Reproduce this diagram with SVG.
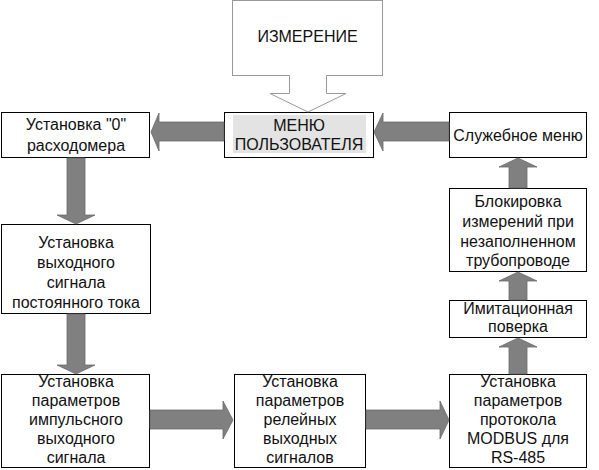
<svg xmlns="http://www.w3.org/2000/svg" width="599" height="470" viewBox="0 0 599 470">
<style>
.box{fill:#fff;stroke:#000;stroke-width:1}
.t{font-family:"Liberation Sans",Arial,sans-serif;font-size:16px;fill:#111;text-anchor:middle}
.arr{fill:#808080;stroke:#6a6a6a;stroke-width:0.8}
</style>
<rect width="599" height="470" fill="#fff"/>
<g id="node-izmerenie">
<rect x="232.5" y="0.5" width="150" height="75" fill="#fff" stroke="#999" stroke-width="1"/>
<text class="t" x="307.5" y="42">ИЗМЕРЕНИЕ</text>
</g>
<g id="node-menu">
<rect class="box" x="224.5" y="112.5" width="149" height="45"/>
<rect x="233" y="115" width="133" height="38" fill="#e3e3e3"/>
<text class="t" x="299" y="131">МЕНЮ</text>
<text class="t" x="299" y="150">ПОЛЬЗОВАТЕЛЯ</text>
</g>
<g id="node-zero">
<rect class="box" x="1.5" y="112.5" width="148" height="45"/>
<text class="t" x="76" y="130">Установка "0"</text>
<text class="t" x="76" y="151">расходомера</text>
</g>
<g id="node-service">
<rect class="box" x="449.5" y="112.5" width="137" height="45"/>
<text class="t" x="518" y="141">Служебное меню</text>
</g>
<g id="node-block">
<rect class="box" x="449.5" y="188.5" width="137" height="83"/>
<text class="t" x="518" y="207">Блокировка</text>
<text class="t" x="518" y="227">измерений при</text>
<text class="t" x="518" y="247">незаполненном</text>
<text class="t" x="518" y="266">трубопроводе</text>
</g>
<g id="node-imit">
<rect class="box" x="449.5" y="300.5" width="137" height="37"/>
<text class="t" x="518" y="314">Имитационная</text>
<text class="t" x="518" y="332">поверка</text>
</g>
<g id="node-current">
<rect class="box" x="1.5" y="224.5" width="149" height="89"/>
<text class="t" x="76" y="248">Установка</text>
<text class="t" x="76" y="268">выходного</text>
<text class="t" x="76" y="288">сигнала</text>
<text class="t" x="76" y="308">постоянного тока</text>
</g>
<g id="node-pulse">
<rect class="box" x="1.5" y="374.5" width="148" height="93"/>
<text class="t" x="76" y="387">Установка</text>
<text class="t" x="76" y="406">параметров</text>
<text class="t" x="76" y="425">импульсного</text>
<text class="t" x="76" y="444">выходного</text>
<text class="t" x="76" y="463">сигнала</text>
</g>
<g id="node-relay">
<rect class="box" x="234.5" y="374.5" width="131" height="93"/>
<text class="t" x="300" y="387">Установка</text>
<text class="t" x="300" y="406">параметров</text>
<text class="t" x="300" y="425">релейных</text>
<text class="t" x="300" y="444">выходных</text>
<text class="t" x="300" y="463">сигналов</text>
</g>
<g id="node-modbus">
<rect class="box" x="449.5" y="374.5" width="137" height="93"/>
<text class="t" x="518" y="387">Установка</text>
<text class="t" x="518" y="406">параметров</text>
<text class="t" x="518" y="425">протокола</text>
<text class="t" x="518" y="444">MODBUS для</text>
<text class="t" x="518" y="463">RS-485</text>
</g>
<g id="connectors">
<polygon fill="#fff" points="289.5,74 289.5,93 270,93 308,112 346,93 326.5,93 326.5,74"/>
<polyline fill="none" stroke="#999" stroke-width="1" points="289.5,75.5 289.5,93.5 270,93.5 308,112 346,93.5 326.5,93.5 326.5,75.5"/>
<polygon class="arr" points="224,122 159,122 159,113 151,132 159,151 159,141 224,141"/>
<polygon class="arr" points="449,122 383,122 383,113 374,132 383,151 383,141 449,141"/>
<polygon class="arr" points="67,158 85,158 85,215 95,215 76,224 57,215 67,215"/>
<polygon class="arr" points="67,314 85,314 85,365 95,365 76,374 57,365 67,365"/>
<polygon class="arr" points="150,410 223,410 223,401 233,420 223,439 223,429 150,429"/>
<polygon class="arr" points="366,410 440,410 440,401 449,420 440,439 440,429 366,429"/>
<polygon class="arr" points="509,374 527,374 527,347 537,347 518,338 499,347 509,347"/>
<polygon class="arr" points="509,300 527,300 527,281 537,281 518,272 499,281 509,281"/>
<polygon class="arr" points="509,188 527,188 527,167 537,167 518,158 499,167 509,167"/>
</g>
</svg>
